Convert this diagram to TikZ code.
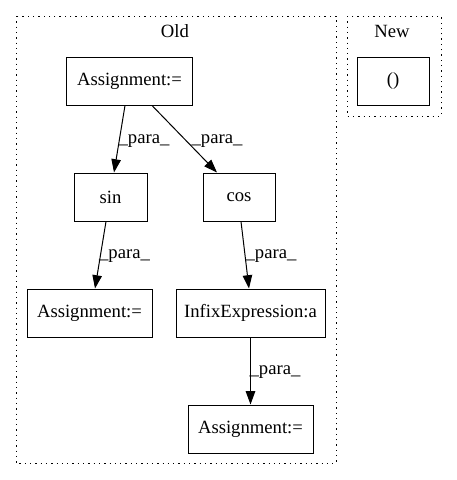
\documentclass[tikz,border=0pt]{standalone}
\usepackage{fontspec}
\setmainfont{Liberation Serif}
\usetikzlibrary{arrows.meta}
\begin{document}
\begin{tikzpicture}[x=1pt,y=-1pt,
  box/.style={draw,line width=1pt,minimum height=48pt,inner sep=0pt,font=\fontsize{18.67}{22}\selectfont},
  cluster/.style={draw,line width=1pt,dash pattern=on 1.3pt off 4pt},
  lbl/.style={inner sep=0pt,font=\fontsize{18.67}{22}\selectfont},
  edge/.style={line width=1pt,-{Triangle[length=13.3pt,width=9.5pt]}}]
\useasboundingbox (0,0) rectangle (456,480);
\draw[cluster] (16,16) rectangle (336,463);
\draw[cluster] (347,16) rectangle (441,116);
\node[lbl] (old) at (175,31) {Old};
\node[lbl] (new) at (392,31) {New};
\node[box,minimum width=126pt] (a1) at (129.5,81) {Assignment:=};
\node[box,minimum width=73pt] (sin) at (110.5,197) {sin};
\node[box,minimum width=72pt] (cos) at (239,197) {cos};
\node[box,minimum width=125pt] (a2) at (89.5,313) {Assignment:=};
\node[box,minimum width=149pt] (inf) at (250.5,313) {InfixExpression:a};
\node[box,minimum width=125pt] (a3) at (250.5,429) {Assignment:=};
\node[box,minimum width=72pt] (nw) at (393,81) {()};
\draw[edge] ([xshift=-4.5pt]a1.south) -- ([xshift=3.5pt]sin.north);
\draw[edge] ([xshift=22.5pt]a1.south) -- ([xshift=-22pt]cos.north);
\draw[edge] ([xshift=-4.5pt]sin.south) -- ([xshift=5.5pt]a2.north);
\draw[edge] ([xshift=2pt]cos.south) -- ([xshift=-1.5pt]inf.north);
\draw[edge] (inf.south) -- (a3.north);
\node[lbl] (l1) at (144,141) {\_para\_};
\node[lbl] (l2) at (217,141) {\_para\_};
\node[lbl] (l3) at (124.5,256) {\_para\_};
\node[lbl] (l4) at (271,256) {\_para\_};
\node[lbl] (l5) at (275,372) {\_para\_};
\end{tikzpicture}
\end{document}
